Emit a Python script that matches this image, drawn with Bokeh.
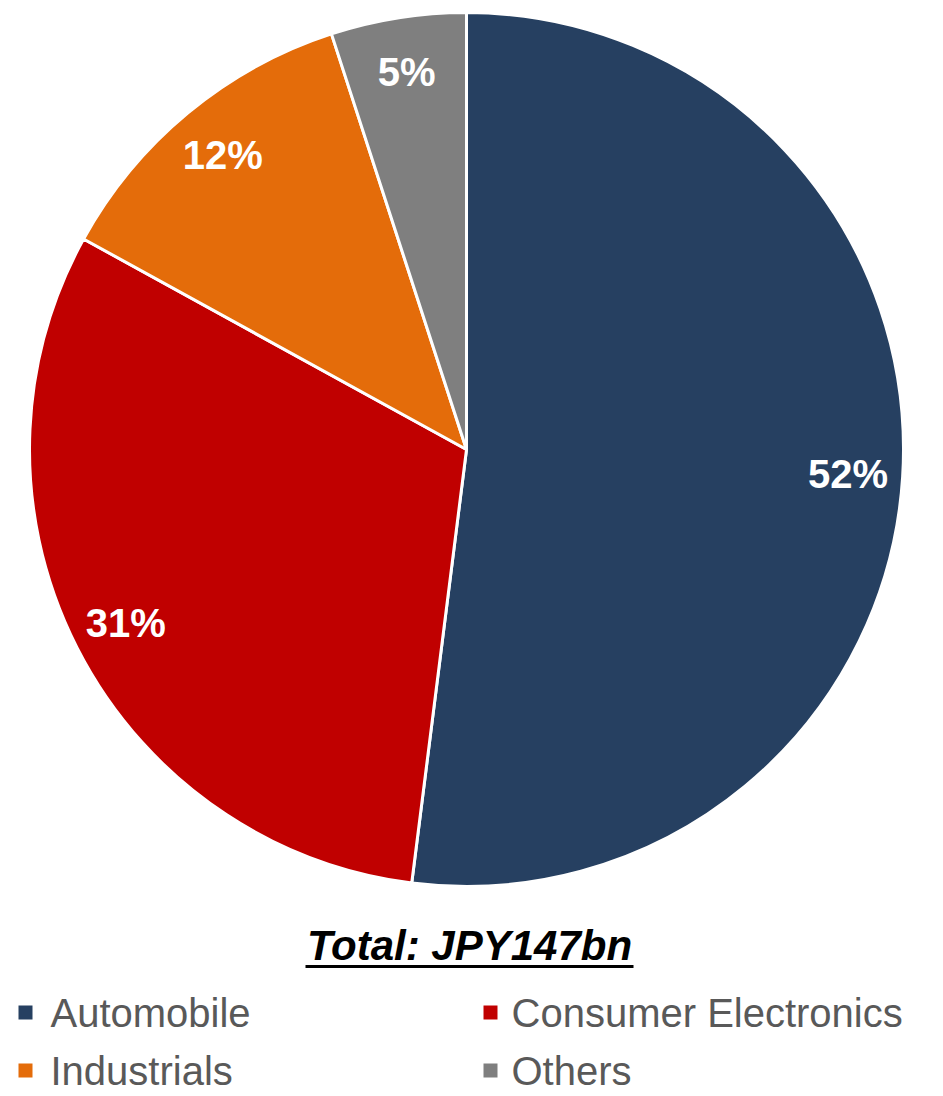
import math
from bokeh.plotting import figure
from bokeh.models import Range1d, ColumnDataSource
from bokeh.core.properties import value
from bokeh.embed import file_html
from bokeh.resources import INLINE

categories = ["Automobile", "Consumer Electronics", "Industrials", "Others"]
shares = [52, 31, 12, 5]
colors = ["#264061", "#C00000", "#E46C0A", "#7F7F7F"]
title_text = "Total: JPY147bn"

W, H = 943, 1096
cx, cy, R = 466, H - 449, 437
LABEL_R = 0.875

p = figure(width=W, height=H, output_backend="svg", toolbar_location=None,
           x_range=Range1d(0, W), y_range=Range1d(0, H),
           x_axis_location=None, y_axis_location=None, min_border=0)
p.xgrid.visible = False
p.ygrid.visible = False
p.outline_line_color = None
p.background_fill_color = "white"

total = sum(shares)
starts, ends, lx, ly, labels = [], [], [], [], []
cum = 0.0
for s in shares:
    a0 = math.pi / 2 - 2 * math.pi * cum / total
    a1 = math.pi / 2 - 2 * math.pi * (cum + s) / total
    mid = (a0 + a1) / 2
    starts.append(a0)
    ends.append(a1)
    lx.append(cx + LABEL_R * R * math.cos(mid))
    ly.append(cy + LABEL_R * R * math.sin(mid))
    labels.append(f"{s}%")
    cum += s

src = ColumnDataSource(dict(start=starts, end=ends, color=colors, lx=lx, ly=ly, label=labels))
p.wedge(x=cx, y=cy, radius=R, start_angle="start", end_angle="end", direction="clock",
        fill_color="color", line_color="white", line_width=3, source=src)
p.text(x="lx", y="ly", text="label", source=src, text_color="white",
       text_font=value("Liberation Sans"), text_font_style="bold", text_font_size="40px",
       text_align="center", text_baseline="middle")

# Title with underline
p.text(x=[469], y=[H - 945], text=[title_text], text_font=value("Liberation Sans"),
       text_font_style="bold italic", text_font_size="42px", text_color="black",
       text_align="center", text_baseline="middle")
p.segment(x0=[305], y0=[H - 966], x1=[633], y1=[H - 966], line_color="black", line_width=3)

# Legend
mx, my, tx = [], [], []
for i, c in enumerate(categories):
    col, row = i % 2, i // 2
    mx.append(25 + col * 465)
    my.append(H - (1012 + row * 58))
    tx.append(50 + col * 461)
p.scatter(x=mx, y=my, marker="square", size=14, fill_color=colors, line_color=None)
p.text(x=tx, y=my, text=categories, text_font=value("Liberation Sans"),
       text_font_size="40px", text_color="#595959", text_align="left", text_baseline="middle")

open("out.html", "w").write(file_html(p, INLINE))
